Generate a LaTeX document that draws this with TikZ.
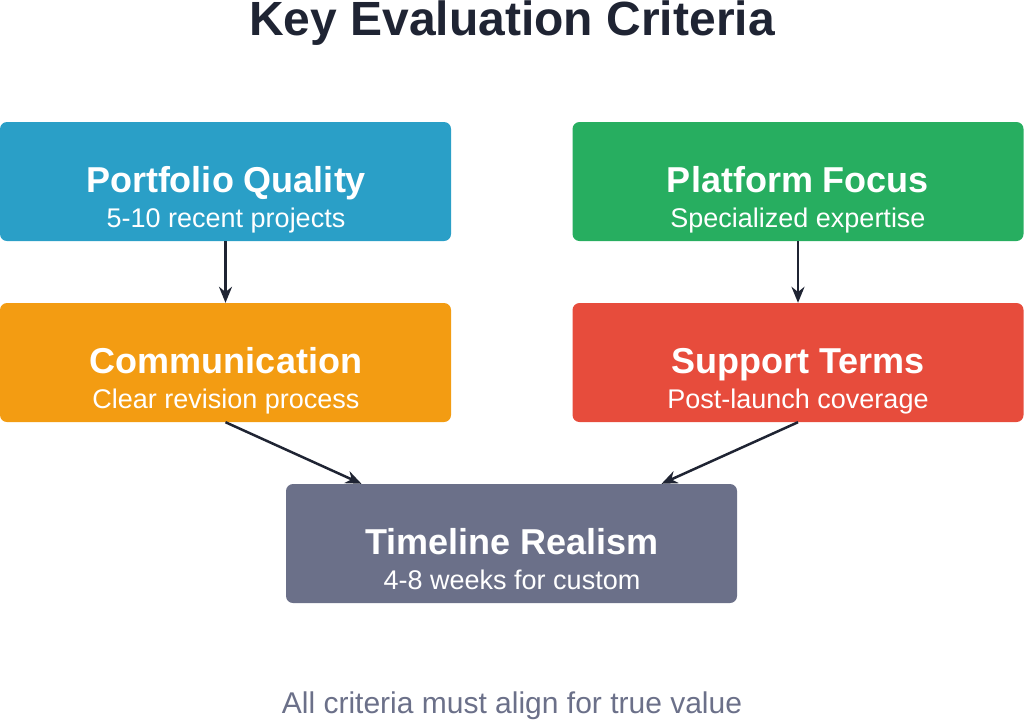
\documentclass[tikz,border=0pt]{standalone}
\usepackage{fontspec}
\setmainfont{Liberation Sans}
\usetikzlibrary{arrows.meta}
\definecolor{cblue}{HTML}{2A9FC7}
\definecolor{cgreen}{HTML}{27AE60}
\definecolor{corange}{HTML}{F39C12}
\definecolor{cred}{HTML}{E74C3C}
\definecolor{cgray}{HTML}{6B7089}
\definecolor{ctitle}{HTML}{1F2433}
\definecolor{cfoot}{HTML}{6B7089}
\tikzset{
 box/.style={draw=none,rounded corners=7pt,minimum width=451pt,minimum height=119pt,inner sep=0pt},
 head/.style={text=white,anchor=base,font=\bfseries\fontsize{36}{40}\selectfont},
 sub/.style={text=white,anchor=base,font=\fontsize{27}{30}\selectfont},
 conn/.style={draw=ctitle,line width=2.5pt,-{Stealth[length=16pt,width=13pt]}}
}
\begin{document}
\begin{tikzpicture}[x=1pt,y=-1pt]
\useasboundingbox (0,0) rectangle (1024,721);
\node[font=\bfseries\fontsize{48}{52}\selectfont,text=ctitle,anchor=base] (title) at (512,35) {Key Evaluation Criteria};
\node[box,fill=cblue] (pq) at (225.5,181.5) {};
\node[box,fill=cgreen] (pf) at (798,181.5) {};
\node[box,fill=corange] (cm) at (225.5,362.5) {};
\node[box,fill=cred] (st) at (798,362.5) {};
\node[box,fill=cgray] (tr) at (511.5,543.5) {};
\node[head] (pqh) at (226,192) {Portfolio Quality};
\node[sub] (pqs) at (226,227) {5-10 recent projects};
\node[head] (pfh) at (798,192) {Platform Focus};
\node[sub] (pfs) at (798,227) {Specialized expertise};
\node[head] (cmh) at (226,373) {Communication};
\node[sub] (cms) at (226,408) {Clear revision process};
\node[head] (sth) at (798,373) {Support Terms};
\node[sub] (sts) at (798,408) {Post-launch coverage};
\node[head] (trh) at (512,554) {Timeline Realism};
\node[sub] (trs) at (512,589) {4-8 weeks for custom};
\node[font=\fontsize{30}{33}\selectfont,text=cfoot,anchor=base] (foot) at (512,713) {All criteria must align for true value};
\draw[conn] (pq.south) -- (cm.north);
\draw[conn] (pf.south) -- (st.north);
\draw[conn] (cm.south) -- ([xshift=-150pt]tr.north);
\draw[conn] (st.south) -- ([xshift=150pt]tr.north);
\end{tikzpicture}
\end{document}
